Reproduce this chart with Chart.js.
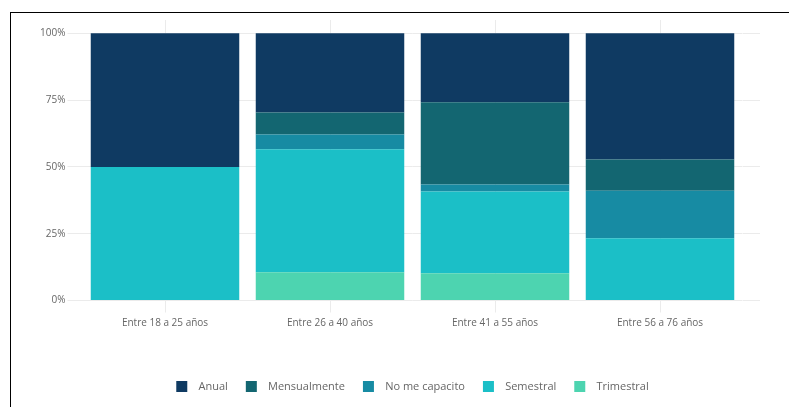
<!DOCTYPE html>
<html>
<head>
<meta charset="utf-8">
<script src="https://cdn.jsdelivr.net/npm/chart.js@4"></script>
<style>
  html, body { margin: 0; padding: 0; background: #fff; overflow: hidden; }
  #frame { position: absolute; left: 10px; top: 12px; width: 800px; height: 420px;
           border-left: 1px solid #000; border-top: 1px solid #000; }
  #chart { position: absolute; left: 0; top: 0; }
</style>
</head>
<body>
<div id="frame"></div>
<canvas id="chart" width="789" height="407"></canvas>
<script>
const categories = ['Entre 18 a 25 años', 'Entre 26 a 40 años', 'Entre 41 a 55 años', 'Entre 56 a 76 años']
const anual = [50, 29.6, 25.8, 47.2]
const mensualmente = [0, 8.3, 30.8, 11.7]
const noMeCapacito = [0, 5.5, 2.6, 17.8]
const semestral = [50, 46.0, 30.6, 23.3]
const trimestral = [0, 10.6, 10.2, 0]
const yTicks = [0, 25, 50, 75, 100]

const gridColor = '#ebebeb'
const textColor = '#666'
const fixTicks = axis => { axis.ticks = yTicks.map(v => ({ value: v })) }

// bottom of the stack first, legend reversed so it reads Anual -> Trimestral
const datasets = [
  { label: 'Trimestral', data: trimestral, backgroundColor: '#4dd4b0' },
  { label: 'Semestral', data: semestral, backgroundColor: '#1bbfc7' },
  { label: 'No me capacito', data: noMeCapacito, backgroundColor: '#178ba3' },
  { label: 'Mensualmente', data: mensualmente, backgroundColor: '#136671' },
  { label: 'Anual', data: anual, backgroundColor: '#0f3a62' },
]

// a little more room between the swatch and the text
const legendLabels = chart =>
  Chart.defaults.plugins.legend.labels.generateLabels(chart).map(l => ({ ...l, text: '  ' + l.text }))

new Chart(document.getElementById('chart'), {
  type: 'bar',
  data: { labels: categories, datasets: datasets },
  options: {
    responsive: false,
    animation: false,
    devicePixelRatio: 1,
    layout: { padding: { left: 0, right: 0, top: 20, bottom: 5 } },
    datasets: { bar: { barPercentage: 0.9, categoryPercentage: 1, borderWidth: 0 } },
    plugins: {
      tooltip: { enabled: false },
      legend: {
        position: 'bottom',
        fullSize: false,
        reverse: true,
        labels: {
          boxWidth: 11, boxHeight: 11, padding: 18,
          color: textColor,
          font: { family: 'Open Sans', size: 11 },
          generateLabels: legendLabels,
        },
      },
    },
    scales: {
      x: {
        stacked: true,
        border: { display: false },
        grid: { color: gridColor, offset: false, tickLength: 12 },
        ticks: { color: textColor, padding: 5, font: { family: 'Open Sans', size: 10 } },
        afterFit: s => { s.height = 62.5 },
      },
      y: {
        stacked: true,
        min: 0, max: 105,
        afterBuildTicks: fixTicks,
        border: { display: false },
        grid: { color: gridColor, tickLength: 15 },
        ticks: { color: textColor, padding: 2, callback: v => v + '%', font: { family: 'Open Sans', size: 10 } },
        afterFit: s => { s.width = 82.5 },
      },
      y2: {
        position: 'right',
        min: 0, max: 105,
        afterBuildTicks: fixTicks,
        border: { display: false },
        grid: { color: gridColor, drawOnChartArea: false, tickLength: 17.5 },
        ticks: { display: false },
        afterFit: s => { s.width = 46.5 },
      },
    },
  },
})
</script>
</body>
</html>
